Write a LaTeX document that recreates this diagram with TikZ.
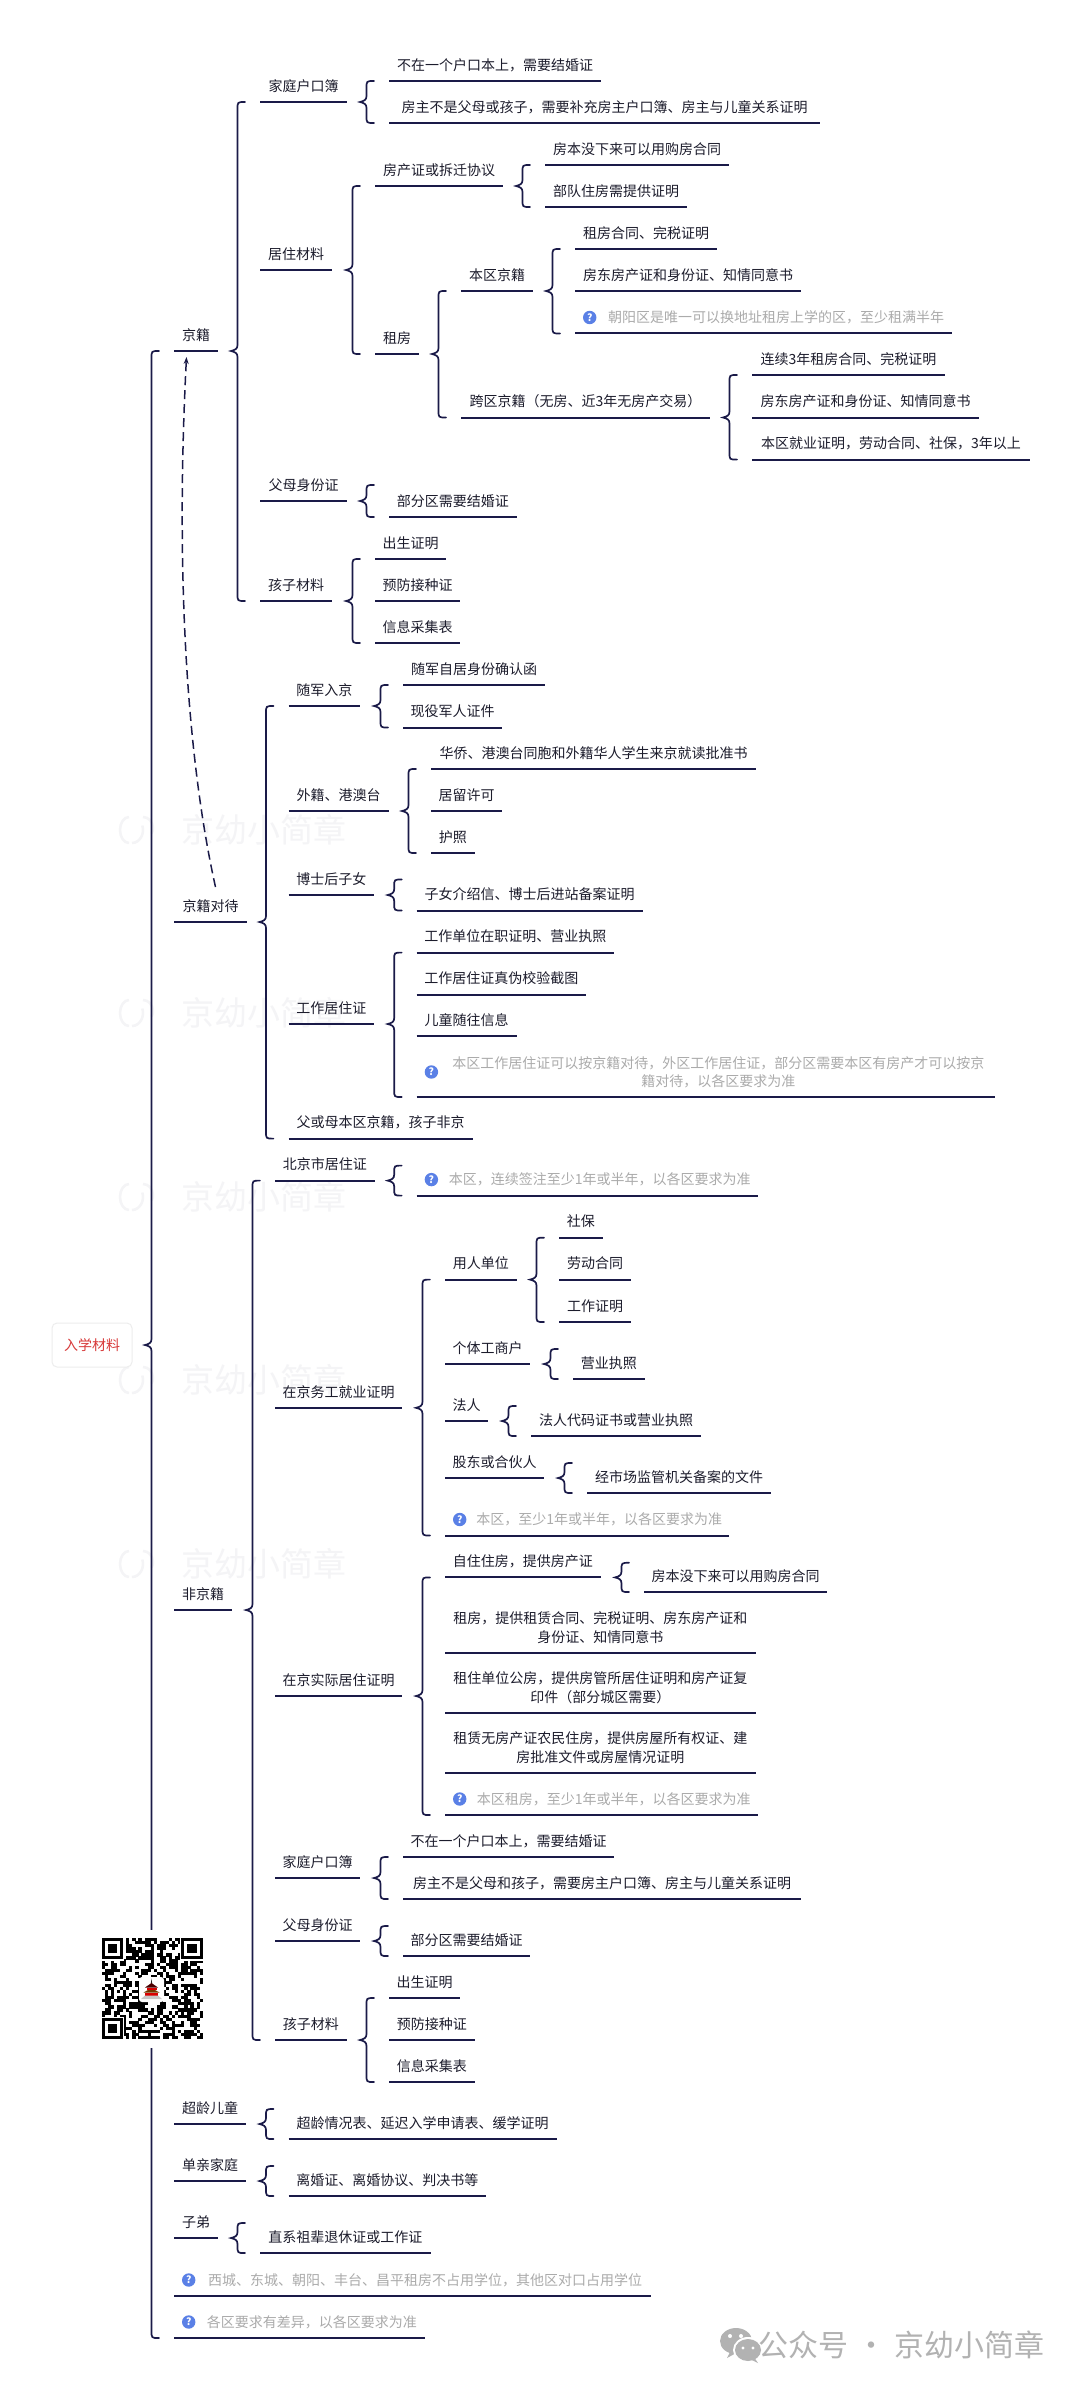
\documentclass[tikz,border=0pt]{standalone}
\usepackage{fontspec}
\setmainfont{Noto Sans CJK SC}
\usetikzlibrary{arrows.meta,calc}
\definecolor{ink}{HTML}{1A1A48}
\definecolor{txt}{HTML}{1C1C2C}
\definecolor{notegray}{HTML}{ABABAB}
\definecolor{qblue}{HTML}{5A80E6}
\definecolor{wmgray}{HTML}{F4F4F6}
\definecolor{sigray}{HTML}{B2B2B2}
\definecolor{rootred}{HTML}{D83A3A}
\tikzset{
  itembase/.style={anchor=south west,inner sep=0pt,outer sep=0pt,font=\fontsize{14}{18.5}\selectfont},
  oneline/.style={itembase,text=txt,minimum height=32pt,text height=11.5pt,text depth=1pt},
  twoline/.style={itembase,text=txt,minimum height=50pt,text height=12.95pt,text depth=20.85pt},
  noteone/.style={oneline,text=notegray},
  notetwo/.style={twoline,text=notegray},
  uline/.style={draw=ink,line width=2pt},
  bracel/.style={draw=ink,line width=1.7pt,line cap=round},
  qicon/.style={circle,fill=qblue,text=white,inner sep=0pt,minimum size=13.4pt,font=\fontsize{10}{10}\selectfont\bfseries},
  wmtext/.style={text=wmgray,inner sep=0pt,font=\fontsize{33}{33}\selectfont},
  wmlogo/.style={draw=wmgray,line width=2.5pt},
  rootbox/.style={rounded corners=5pt,draw=black!7,line width=1pt,fill=white,text=rootred,minimum width=80pt,minimum height=44pt,inner sep=0pt,font=\fontsize{14}{18}\selectfont},
  refline/.style={draw=ink,line width=1.5pt,dash pattern=on 9pt off 5pt,-{Stealth[length=7pt,width=5pt]}},
}
% name, x1, x2, y, text
\newcommand{\nd}[5]{\node[oneline,minimum width={(#3-#2)*1pt}] (#1) at (#2,#4) {#5};
  \draw[uline] (#1.south west) -- (#1.south east);}
\newcommand{\ndd}[6]{\node[twoline,minimum width={(#3-#2)*1pt}] (#1) at (#2,#4) {\begin{tabular}[t]{@{}c@{}}#5\\#6\end{tabular}};
  \draw[uline] (#1.south west) -- (#1.south east);}
\newcommand{\nt}[5]{\node[noteone,minimum width={(#3-#2)*1pt}] (#1) at (#2,#4) {\hspace*{25pt}#5};
  \draw[uline] (#1.south west) -- (#1.south east);
  \node[qicon] (#1q) at (#2+14.7,#4-16) {?};}
\newcommand{\ntt}[6]{\node[notetwo,minimum width={(#3-#2)*1pt}] (#1) at (#2,#4) {\hspace*{25pt}\begin{tabular}[t]{@{}c@{}}#5\\#6\end{tabular}};
  \draw[uline] (#1.south west) -- (#1.south east);
  \node[qicon] (#1q) at (#2+14.7,#4-25) {?};}
% brace: parent, first child, last child
\newcommand{\brc}[4][south east]{\draw[bracel] let \p1=(#2.#1),\p2=(#3.south west),\p3=(#4.south west) in
  (\x2-15pt,\y2) .. controls (\x2-22.5pt,\y2) and (\x2-22.5pt,\y2) .. (\x2-22.5pt,\y2-7pt)
  -- (\x2-22.5pt,\y1+6pt) .. controls (\x2-22.5pt,\y1+2pt) and (\x2-25pt,\y1+1pt) .. (\x2-29pt,\y1)
  .. controls (\x2-25pt,\y1-1pt) and (\x2-22.5pt,\y1-2pt) .. (\x2-22.5pt,\y1-6pt)
  -- (\x2-22.5pt,\y3+7pt) .. controls (\x2-22.5pt,\y3) and (\x2-22.5pt,\y3) .. (\x2-15pt,\y3);}
% brace with one child
\newcommand{\brcone}[2]{\draw[bracel] let \p1=(#1.south east),\p2=(#2.south west),\n1={2*\y1-\y2} in
  (\x2-15pt,\n1) .. controls (\x2-22.5pt,\n1) and (\x2-22.5pt,\n1) .. (\x2-22.5pt,\n1-7pt)
  -- (\x2-22.5pt,\y1+6pt) .. controls (\x2-22.5pt,\y1+2pt) and (\x2-25pt,\y1+1pt) .. (\x2-29pt,\y1)
  .. controls (\x2-25pt,\y1-1pt) and (\x2-22.5pt,\y1-2pt) .. (\x2-22.5pt,\y1-6pt)
  -- (\x2-22.5pt,\y2+7pt) .. controls (\x2-22.5pt,\y2) and (\x2-22.5pt,\y2) .. (\x2-15pt,\y2);}
\newcommand{\wmark}[2]{\node[wmtext,anchor=west] (#1) at (181,#2) {京幼小简章};
  \draw[wmlogo] (129,#2-13) arc (90:270:9pt and 13pt);
  \draw[wmlogo] (132,#2+13) arc (-90:20:11pt and 13pt);
  \draw[wmlogo] (143,#2-13) arc (90:-30:10pt and 11pt);}
\begin{document}
\begin{tikzpicture}[x=1pt,y=-1pt]
\useasboundingbox (0,0) rectangle (1080,2389);
\fill[white] (0,0) rectangle (1080,2389);
% watermarks
\wmark{wm1}{830}
\wmark{wm2}{1013}
\wmark{wm3}{1197}
\wmark{wm4}{1380}
\wmark{wm5}{1564}
% root
\node[rootbox] (root) at (92,1345) {入学材料};
% level 1
\nd{jj}{174}{218}{351}{京籍}
\nd{jd}{174}{247}{922}{京籍对待}
\nd{fj}{174}{232}{1610}{非京籍}
\nd{cl}{174}{246}{2124}{超龄儿童}
\nd{dq}{174}{246}{2181}{单亲家庭}
\nd{zd}{174}{218}{2238}{子弟}
\nt{na}{174}{651}{2296}{西城、东城、朝阳、丰台、昌平租房不占用学位，其他区对口占用学位}
\nt{nb}{174}{424.5}{2338}{各区要求有差异，以各区要求为准}
% 京籍
\nd{a1}{260}{347}{102}{家庭户口簿}
\nd{a11}{389}{601}{81}{不在一个户口本上，需要结婚证}
\nd{a12}{389}{820}{123}{房主不是父母或孩子，需要补充房主户口簿、房主与儿童关系证明}
\nd{a2}{260}{332}{270}{居住材料}
\nd{a21}{375}{503}{186}{房产证或拆迁协议}
\nd{a211}{545}{729}{165}{房本没下来可以用购房合同}
\nd{a212}{545}{687}{207}{部队住房需提供证明}
\nd{a22}{375}{419}{354}{租房}
\nd{a221}{461}{533}{291}{本区京籍}
\nd{a2211}{575}{717}{249}{租房合同、完税证明}
\nd{a2212}{575}{801}{291}{房东房产证和身份证、知情同意书}
\nt{a2213}{575}{952}{333.5}{朝阳区是唯一可以换地址租房上学的区，至少租满半年}
\nd{a222}{461}{710}{417.5}{跨区京籍（无房、近3年无房产交易）}
\nd{a2221}{752}{945}{375}{连续3年租房合同、完税证明}
\nd{a2222}{752}{979}{417.5}{房东房产证和身份证、知情同意书}
\nd{a2223}{752}{1030}{459.6}{本区就业证明，劳动合同、社保，3年以上}
\nd{a3}{260}{347}{501}{父母身份证}
\nd{a31}{389}{516.5}{517}{部分区需要结婚证}
\nd{a4}{260}{332}{601}{孩子材料}
\nd{a41}{375}{446}{559}{出生证明}
\nd{a42}{375}{460}{601}{预防接种证}
\nd{a43}{375}{460}{643}{信息采集表}
% 京籍对待
\nd{b1}{288.5}{360}{706}{随军入京}
\nd{b11}{403}{545}{685}{随军自居身份确认函}
\nd{b12}{403}{502}{727.5}{现役军人证件}
\nd{b2}{288.5}{388.5}{811}{外籍、港澳台}
\nd{b21}{431}{756}{769}{华侨、港澳台同胞和外籍华人学生来京就读批准书}
\nd{b22}{431}{502}{811}{居留许可}
\nd{b23}{431}{474.5}{853}{护照}
\nd{b3}{288.5}{374}{895}{博士后子女}
\nd{b31}{416.7}{642.6}{910.5}{子女介绍信、博士后进站备案证明}
\nd{b4}{288.5}{374}{1024}{工作居住证}
\nd{b41}{416.7}{614}{952.6}{工作单位在职证明、营业执照}
\nd{b42}{416.7}{586}{994.7}{工作居住证真伪校验截图}
\nd{b43}{416.7}{516.5}{1036.4}{儿童随往信息}
\ntt{b44}{416.7}{995}{1097}{本区工作居住证可以按京籍对待，外区工作居住证，部分区需要本区有房产才可以按京}{籍对待，以各区要求为准}
\nd{b5}{288.5}{472.5}{1138.6}{父或母本区京籍，孩子非京}
% 非京籍
\nd{c1}{275}{374.6}{1180.6}{北京市居住证}
\nt{c11}{416.7}{757.6}{1195.6}{本区，连续签注至少1年或半年，以各区要求为准}
\nd{c2}{275}{402}{1407.8}{在京务工就业证明}
\nd{c21}{445}{516.5}{1279.6}{用人单位}
\nd{c211}{559}{602.6}{1237.7}{社保}
\nd{c212}{559}{631}{1279.6}{劳动合同}
\nd{c213}{559}{631}{1322}{工作证明}
\nd{c22}{445}{530}{1364}{个体工商户}
\nd{c221}{573}{644.6}{1379}{营业执照}
\nd{c23}{445}{488}{1421}{法人}
\nd{c231}{531}{701}{1436}{法人代码证书或营业执照}
\nd{c24}{445}{544}{1478}{股东或合伙人}
\nd{c241}{587}{771}{1493}{经市场监管机关备案的文件}
\nt{c25}{445}{728.6}{1535.5}{本区，至少1年或半年，以各区要求为准}
\nd{c3}{275}{402}{1696}{在京实际居住证明}
\nd{c31}{445}{600.5}{1577.4}{自住住房，提供房产证}
\nd{c311}{644}{827}{1592}{房本没下来可以用购房合同}
\ndd{c32}{445}{755.5}{1652.5}{租房，提供租赁合同、完税证明、房东房产证和}{身份证、知情同意书}
\ndd{c33}{445}{755.5}{1712.6}{租住单位公房，提供房管所居住证明和房产证复}{印件（部分城区需要）}
\ndd{c34}{445}{755.5}{1772.7}{租赁无房产证农民住房，提供房屋所有权证、建}{房批准文件或房屋情况证明}
\nt{c35}{445}{757.6}{1815}{本区租房，至少1年或半年，以各区要求为准}
\nd{c4}{275}{360}{1878}{家庭户口簿}
\nd{c41}{403}{614}{1857}{不在一个户口本上，需要结婚证}
\nd{c42}{403}{801}{1899}{房主不是父母和孩子，需要房主户口簿、房主与儿童关系证明}
\nd{c5}{275}{360}{1941}{父母身份证}
\nd{c51}{403}{530}{1956}{部分区需要结婚证}
\nd{c6}{275}{346.5}{2040}{孩子材料}
\nd{c61}{389}{460}{1998}{出生证明}
\nd{c62}{389}{474.5}{2040}{预防接种证}
\nd{c63}{389}{474.5}{2082}{信息采集表}
% others
\nd{d1}{288.5}{556.5}{2139}{超龄情况表、延迟入学申请表、缓学证明}
\nd{d2}{288.5}{486}{2196}{离婚证、离婚协议、判决书等}
\nd{d3}{260}{430.5}{2253}{直系祖辈退休证或工作证}
% braces
\brc[east]{root}{jj}{nb}
\brc{jj}{a1}{a4}
\brc{a1}{a11}{a12}
\brc{a2}{a21}{a22}
\brc{a21}{a211}{a212}
\brc{a22}{a221}{a222}
\brc{a221}{a2211}{a2213}
\brc{a222}{a2221}{a2223}
\brcone{a3}{a31}
\brc{a4}{a41}{a43}
\brc{jd}{b1}{b5}
\brc{b1}{b11}{b12}
\brc{b2}{b21}{b23}
\brcone{b3}{b31}
\brc{b4}{b41}{b44}
\brc{fj}{c1}{c6}
\brcone{c1}{c11}
\brc{c2}{c21}{c25}
\brc{c21}{c211}{c213}
\brcone{c22}{c221}
\brcone{c23}{c231}
\brcone{c24}{c241}
\brc{c3}{c31}{c35}
\brcone{c31}{c311}
\brc{c4}{c41}{c42}
\brcone{c5}{c51}
\brc{c6}{c61}{c63}
\brcone{cl}{d1}
\brcone{dq}{d2}
\brcone{zd}{d3}
% dashed reference link
\draw[refline] ([xshift=5pt,yshift=3pt]jd.north) .. controls (185,750) and (176,560) .. ([xshift=-9.5pt,yshift=-6pt]jj.south);
% QR code
\fill[white] (93,1930) rectangle (212,2048);
\pgfmathsetseed{20240}
\foreach \i in {0,...,32}{\foreach \j in {0,...,32}{
  \pgfmathrandominteger{\rr}{0}{9}
  \ifnum\rr<5 \fill[black] (101.7+\i*3.06,1938+\j*3.06) rectangle (101.7+\i*3.06+3.2,1938+\j*3.06+3.2);\fi
}}
\foreach \ox/\oy in {101.7/1938, 181.3/1938, 101.7/2017.6}{
  \fill[white] (\ox-1,\oy-1) rectangle (\ox+22.5,\oy+22.5);
  \fill[black] (\ox,\oy) rectangle (\ox+21.4,\oy+21.4);
  \fill[white] (\ox+3.06,\oy+3.06) rectangle (\ox+18.36,\oy+18.36);
  \fill[black] (\ox+6.12,\oy+6.12) rectangle (\ox+15.3,\oy+15.3);
}
\fill[white,rounded corners=3pt] (139,1977) rectangle (164,2002);
\fill[black!85] (151.5,1978.5) -- (152.2,1984) -- (150.8,1984) -- cycle;
\fill[black!70!red] (145,1987.5) -- (158,1987.5) -- (151.5,1983) -- cycle;
\fill[red!85!black] (146.5,1987.5) rectangle (156.5,1990);
\fill[black!55!orange] (143.5,1992.5) -- (159.5,1992.5) -- (155,1990) -- (148,1990) -- cycle;
\fill[red!85!black] (145,1992.5) rectangle (158,1995.5);
\fill[black!22] (141,1999) -- (162,1999) -- (158,1995.5) -- (145,1995.5) -- cycle;
% signature watermark
\fill[sigray] (736,2341) ellipse (16 and 13);
\fill[sigray] (731,2350) -- (727,2358) -- (738,2352) -- cycle;
\fill[white] (748,2350) ellipse (15 and 13);
\fill[sigray] (748,2350) ellipse (13 and 11);
\fill[sigray] (754,2357) -- (758,2363) -- (750,2359) -- cycle;
\fill[white] (730,2336) circle (2);
\fill[white] (741,2336) circle (2);
\fill[white] (743,2348) circle (1.6);
\fill[white] (753,2348) circle (1.6);
\node[anchor=east,inner sep=0pt,text=sigray,font=\fontsize{30}{30}\selectfont] (sig) at (1045,2345) {公众号\hspace{8pt}·\hspace{8pt}京幼小简章};
\end{tikzpicture}
\end{document}
